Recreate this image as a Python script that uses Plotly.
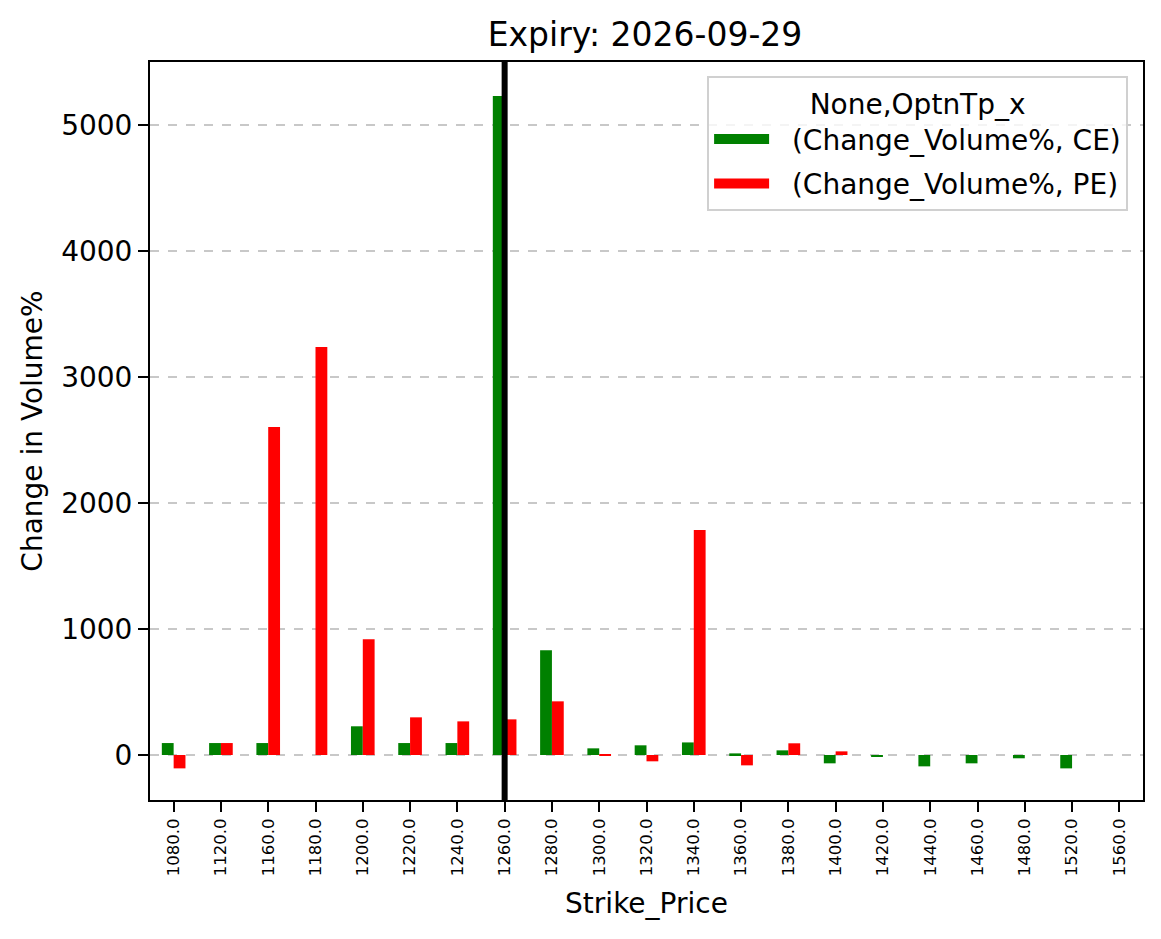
import plotly.graph_objects as go

EXPIRY = "2026-09-29"
SPOT_STRIKE = "1260.0"

STRIKES = [
    "1080.0", "1120.0", "1160.0", "1180.0", "1200.0", "1220.0", "1240.0",
    "1260.0", "1280.0", "1300.0", "1320.0", "1340.0", "1360.0", "1380.0",
    "1400.0", "1420.0", "1440.0", "1460.0", "1480.0", "1520.0", "1560.0",
]
# change in volume % per strike, None where the column is NaN
CE_CHANGE = [
    95, 95, 95, None, 228, 95, 95,
    5230, 831, 53, 77, 100, 13, 37,
    -66, -8, -90, -66, -26, -106, None,
]
PE_CHANGE = [
    -106, 95, 2603, 3238, 918, 299, 267,
    283, 426, 5, -50, 1786, -82, 93,
    29, None, None, None, None, None, None,
]
SERIES = [
    ("(Change_Volume%, CE)", CE_CHANGE, "green"),
    ("(Change_Volume%, PE)", PE_CHANGE, "red"),
]

FONT = "DejaVu Sans"

fig = go.Figure()
for name, values, color in SERIES:
    fig.add_trace(
        go.Bar(
            x=STRIKES,
            y=values,
            name=name,
            marker=dict(color=color, line=dict(width=0)),
            showlegend=False,
        )
    )
# legend keys only (wide patches like matplotlib)
for name, values, color in SERIES:
    fig.add_trace(
        go.Scatter(
            x=[None],
            y=[None],
            mode="lines",
            name="\u00a0\u00a0" + name,
            legendgroup=name,
            line=dict(color=color, width=20),
        )
    )

# spot strike marker
spot_idx = STRIKES.index(SPOT_STRIKE)
fig.add_shape(
    type="line",
    xref="x", yref="paper",
    x0=spot_idx, x1=spot_idx, y0=0, y1=1,
    line=dict(color="black", width=6),
    layer="above",
)

fig.update_xaxes(
    type="category",
    range=[-0.5, len(STRIKES) - 0.5],
    title_text="Strike_Price",
    title_font=dict(family=FONT, size=28, color="black"),
    title_standoff=18,
    tickangle=-90,
    tickfont=dict(family=FONT, size=16.5, color="black"),
    ticks="outside",
    ticklen=10,
    tickwidth=2,
    tickcolor="black",
    showline=True,
    linecolor="black",
    linewidth=2,
    mirror=True,
    showgrid=False,
)
fig.update_yaxes(
    range=[-357, 5500],
    title_text="Change in Volume%",
    title_font=dict(family=FONT, size=28, color="black"),
    title_standoff=10,
    tickfont=dict(family=FONT, size=28, color="black"),
    tickvals=[0, 1000, 2000, 3000, 4000, 5000],
    ticks="outside",
    ticklen=10,
    tickwidth=2,
    tickcolor="black",
    showline=True,
    linecolor="black",
    linewidth=2,
    mirror=True,
    showgrid=True,
    gridcolor="rgba(176,176,176,0.7)",
    gridwidth=2,
    griddash="dash",
    zeroline=False,
)
fig.update_layout(
    width=1153,
    height=931,
    margin=dict(l=142, r=18, t=54, b=139),
    paper_bgcolor="white",
    plot_bgcolor="white",
    barmode="group",
    bargap=0.5,
    bargroupgap=0,
    title=dict(
        text=f"Expiry: {EXPIRY}",
        font=dict(family=FONT, size=33, color="black"),
        x=0.5525, xanchor="center",
        y=0.972, yref="container", yanchor="middle",
    ),
    legend=dict(
        title=dict(text="None,OptnTp_x", side="top center",
                   font=dict(family=FONT, size=28, color="black")),
        font=dict(family=FONT, size=28, color="black"),
        traceorder="grouped",
        tracegroupgap=5,
        itemwidth=55,
        x=0.985, xanchor="right",
        y=0.981, yanchor="top",
        bgcolor="rgba(255,255,255,0.8)",
        bordercolor="#d0d0d0",
        borderwidth=2,
    ),
)

fig.write_html("out.html")
